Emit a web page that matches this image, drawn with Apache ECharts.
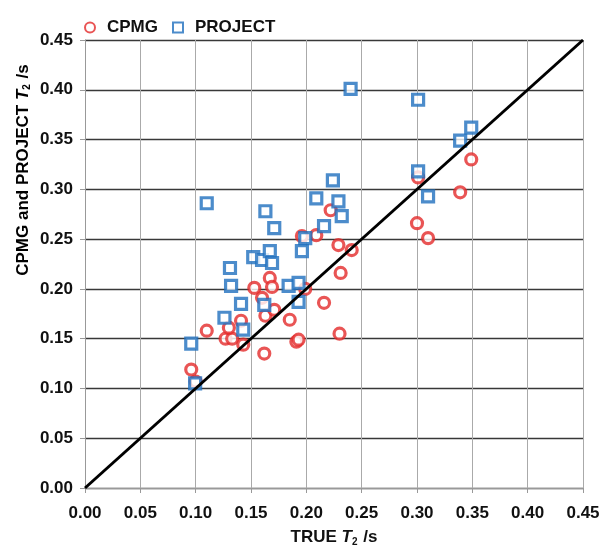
<!DOCTYPE html>
<html>
<head>
<meta charset="utf-8">
<script src="https://cdn.jsdelivr.net/npm/echarts@6/dist/echarts.min.js"></script>
<style>
  html, body { margin: 0; padding: 0; background: #fff; }
  #chart { width: 600px; height: 546px; }
</style>
</head>
<body>
<div id="chart"></div>
<script>
// values
const cpmgTrue = [0.096, 0.100, 0.110, 0.127, 0.133, 0.130, 0.141, 0.143, 0.153, 0.160, 0.162, 0.163, 0.167, 0.169, 0.171, 0.185, 0.191, 0.193, 0.199, 0.196, 0.209, 0.216, 0.222, 0.229, 0.230, 0.231, 0.241, 0.300, 0.301, 0.310, 0.339, 0.349]
const cpmgT2 = [0.119, 0.107, 0.158, 0.150, 0.150, 0.161, 0.168, 0.144, 0.201, 0.191, 0.135, 0.173, 0.211, 0.202, 0.179, 0.169, 0.147, 0.149, 0.200, 0.253, 0.254, 0.186, 0.279, 0.244, 0.155, 0.216, 0.239, 0.266, 0.312, 0.251, 0.297, 0.330]

const projectTrue = [0.096, 0.0995, 0.110, 0.126, 0.131, 0.132, 0.141, 0.143, 0.152, 0.160, 0.162, 0.163, 0.167, 0.169, 0.171, 0.184, 0.193, 0.193, 0.196, 0.199, 0.209, 0.216, 0.224, 0.229, 0.232, 0.240, 0.301, 0.301, 0.310, 0.339, 0.349]
const projectT2 = [0.145, 0.105, 0.286, 0.171, 0.221, 0.203, 0.185, 0.159, 0.232, 0.229, 0.184, 0.278, 0.238, 0.226, 0.261, 0.203, 0.206, 0.187, 0.238, 0.251, 0.291, 0.263, 0.309, 0.288, 0.273, 0.401, 0.390, 0.318, 0.293, 0.349, 0.362]

const identityLine = [[0, 0], [0.45, 0.45]]

const RED = "#e42a2a"
const BLUE = "#1f6fbe"
const FONT = "Liberation Sans"
const INK = "#111"

const chart = echarts.init(document.getElementById("chart"))

const zip = (xs, ys) => xs.map((x, i) => [x, ys[i]])

// rich text for "T2" style titles
const titleRich = (size) => ({
  n: { fontFamily: FONT, fontSize: size, fontWeight: "bold", color: INK },
  i: { fontFamily: FONT, fontSize: size, fontWeight: "bold", fontStyle: "italic", color: INK },
  s: { fontFamily: FONT, fontSize: 10, fontWeight: "bold", color: INK, padding: [9, 1, 0, 0] },
})

const option = {
  backgroundColor: "#fff",
  animation: false,
  textStyle: { fontFamily: FONT },
  legend: {
    left: 79,
    top: 14,
    itemGap: 14,
    itemWidth: 10,
    itemHeight: 10,
    textStyle: { fontFamily: FONT, fontSize: 17, fontWeight: "bold", color: INK, padding: [0, 0, 0, 7] },
    data: ["CPMG", "PROJECT"],
  },
  grid: {
    left: 85,
    right: 17,
    top: 40,
    bottom: 58,
    containLabel: false,
    outerBoundsMode: "none",
  },
  graphic: [
    {
      type: "text",
      x: 23,
      y: 170,
      rotation: Math.PI / 2,
      style: {
        text: "{n|CPMG and PROJECT }{i|T}{s|2}{n| /s}",
        rich: titleRich(17),
        align: "center",
        verticalAlign: "middle",
      },
    },
  ],
  xAxis: {
    type: "value",
    min: 0,
    max: 0.45,
    interval: 0.05,
    name: "{n|TRUE }{i|T}{s|2}{n| /s}",
    nameLocation: "middle",
    nameGap: 40,
    nameTextStyle: { rich: titleRich(17) },
    axisLine: { show: true, lineStyle: { color: "#999", width: 1 } },
    axisTick: { show: true, length: 5, lineStyle: { color: "#999" } },
    axisLabel: {
      fontFamily: FONT,
      fontSize: 17,
      fontWeight: "bold",
      color: INK,
      margin: 17,
      formatter: (v) => v.toFixed(2),
    },
    splitLine: { show: true, lineStyle: { color: "#aaa", width: 1 } },
  },
  yAxis: {
    type: "value",
    min: 0,
    max: 0.45,
    interval: 0.05,
    axisLine: { show: true, lineStyle: { color: "#999", width: 1 } },
    axisTick: { show: true, length: 5, lineStyle: { color: "#999" } },
    axisLabel: {
      fontFamily: FONT,
      fontSize: 17,
      fontWeight: "bold",
      color: INK,
      margin: 12,
      formatter: (v) => v.toFixed(2),
    },
    splitLine: { show: true, lineStyle: { color: "#383838", width: 1.4 } },
  },
  series: [
    {
      name: "CPMG",
      type: "scatter",
      symbol: "circle",
      symbolSize: 11,
      z: 3,
      itemStyle: { color: "#fff", borderColor: RED, borderWidth: 3.2 },
      data: zip(cpmgTrue, cpmgT2),
    },
    {
      name: "PROJECT",
      type: "scatter",
      symbol: "rect",
      symbolSize: 11,
      z: 4,
      itemStyle: { color: "#fff", borderColor: BLUE, borderWidth: 3.2 },
      data: zip(projectTrue, projectT2),
    },
    {
      name: "1:1",
      type: "line",
      symbol: "none",
      z: 5,
      lineStyle: { color: "#000", width: 3 },
      data: identityLine,
    },
  ],
}

chart.setOption(option)
</script>
</body>
</html>
